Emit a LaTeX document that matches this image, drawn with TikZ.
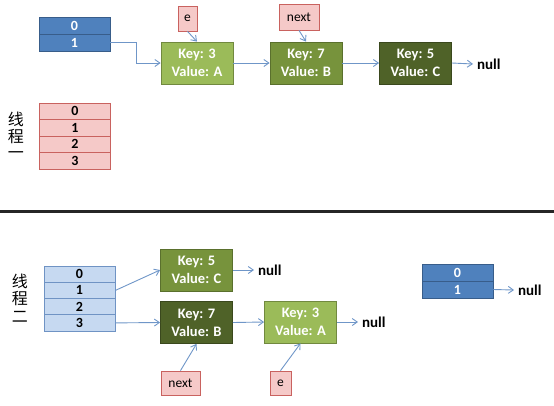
\documentclass[tikz,border=0pt]{standalone}
\usepackage{fontspec}
\setmainfont{Carlito}
\newfontfamily\cjk{Noto Sans CJK SC}
\usetikzlibrary{arrows.meta}
\definecolor{dblue}{HTML}{4F81BD}
\definecolor{dblueb}{HTML}{385D8A}
\definecolor{lblue}{HTML}{C6D9F1}
\definecolor{lblueb}{HTML}{6F93C4}
\definecolor{pinkf}{HTML}{F5C9C8}
\definecolor{pinkb}{HTML}{C9625F}
\definecolor{glight}{HTML}{9BBB59}
\definecolor{glightb}{HTML}{71893F}
\definecolor{gmid}{HTML}{77933C}
\definecolor{gmidb}{HTML}{5A702D}
\definecolor{gdark}{HTML}{4F6228}
\definecolor{gdarkb}{HTML}{3A481D}
\definecolor{arr}{HTML}{6F96C8}
\tikzset{
  cell/.style={draw, line width=0.8pt, minimum width=71pt, inner sep=0pt, font=\fontsize{14}{14}\selectfont\bfseries},
  dcell/.style={cell, fill=dblue, draw=dblueb, text=white, minimum height=17pt},
  pcell/.style={cell, fill=pinkf, draw=pinkb, text=black, minimum height=16.5pt},
  lcell/.style={cell, fill=lblue, draw=lblueb, text=black, minimum height=16.25pt},
  entry/.style={draw, line width=0.8pt, minimum width=72pt, minimum height=42pt, inner sep=0pt, align=center, text=white, font=\fontsize{14.5}{18}\selectfont\bfseries},
  el/.style={entry, fill=glight, draw=glightb},
  em/.style={entry, fill=gmid, draw=gmidb},
  ed/.style={entry, fill=gdark, draw=gdarkb},
  ptr/.style={draw=pinkb, fill=pinkf, line width=0.8pt, inner sep=0pt, font=\fontsize{13.5}{13.5}\selectfont},
  nul/.style={font=\fontsize{15}{15}\selectfont\bfseries, inner sep=0pt, outer sep=4pt},
  link/.style={draw=arr, line width=0.9pt, -{Straight Barb[length=5pt,width=7pt]}},
  thr/.style={font=\cjk\fontsize{16}{16}\selectfont, inner sep=0pt}
}
\begin{document}
\begin{tikzpicture}[x=1pt,y=-1pt]
\useasboundingbox (0,0) rectangle (554,405);
% ---------- thread one ----------
\node[dcell] (ta0) at (74.5,25.5) {0};
\node[dcell] (ta1) at (74.5,42.5) {1};
\node[el] (k3) at (197,63) {Key: 3\\Value: A};
\node[em] (k7) at (306,63) {Key: 7\\Value: B};
\node[ed] (k5) at (415.5,63) {Key: 5\\Value: C};
\node[nul, anchor=west] (n1) at (473,64) {null};
\node[ptr, minimum width=19pt, minimum height=25pt] (e1) at (187.5,18.5) {e};
\node[ptr, minimum width=40pt, minimum height=26pt] (nx1) at (299,17) {next};
\coordinate (bend) at (136,42.5);
\draw[link] (ta1.east) -- (bend) |- (k3.west);
\draw[link] (k3) -- (k7);
\draw[link] (k7) -- (k5);
\draw[link] (k5.east) -- (n1.west);
\draw[link] (e1.south) -- (k3.north);
\draw[link] (nx1.south) -- (k7.north);
\node[pcell] (p0) at (75,111.25) {0};
\node[pcell] (p1) at (75,127.75) {1};
\node[pcell] (p2) at (75,144.25) {2};
\node[pcell] (p3) at (75,160.75) {3};
\node[thr] (t1a) at (16,119) {线};
\node[thr] (t1b) at (16,137) {程};
\node[thr] (t1c) at (16,155) {一};
% ---------- separator ----------
\draw[line width=2.5pt, black!85] (0,211.5) -- (554,211.5);
% ---------- thread two ----------
\node[thr] (t2a) at (20,281) {线};
\node[thr] (t2b) at (20,299) {程};
\node[thr] (t2c) at (20,317) {二};
\node[lcell] (l0) at (79.5,274.1) {0};
\node[lcell] (l1) at (79.5,290.4) {1};
\node[lcell] (l2) at (79.5,306.6) {2};
\node[lcell] (l3) at (79.5,322.9) {3};
\node[em] (b5) at (196.5,270) {Key: 5\\Value: C};
\node[ed] (b7) at (196.5,322.5) {Key: 7\\Value: B};
\node[el] (b3) at (300.5,322) {Key: 3\\Value: A};
\node[nul, anchor=west] (n2) at (254,270) {null};
\node[nul, anchor=west] (n3) at (358,322) {null};
\node[ptr, minimum width=39pt, minimum height=24pt] (nx2) at (180.5,383) {next};
\node[ptr, minimum width=21pt, minimum height=24pt] (e2) at (280.5,383) {e};
\draw[link] (l1.east) -- (b5.west);
\draw[link] (l3.east) -- (b7.west);
\draw[link] (b5.east) -- (n2.west);
\draw[link] (b7.east) -- (b3.west);
\draw[link] (b3.east) -- (n3.west);
\draw[link] (nx2.north) -- (b7.south);
\draw[link] (e2.north) -- (b3.south);
\node[dcell] (r0) at (457.5,272.5) {0};
\node[dcell] (r1) at (457.5,289.5) {1};
\node[nul, anchor=west] (n4) at (514,290) {null};
\draw[link] (r1.east) -- (n4.west);
\end{tikzpicture}
\end{document}
